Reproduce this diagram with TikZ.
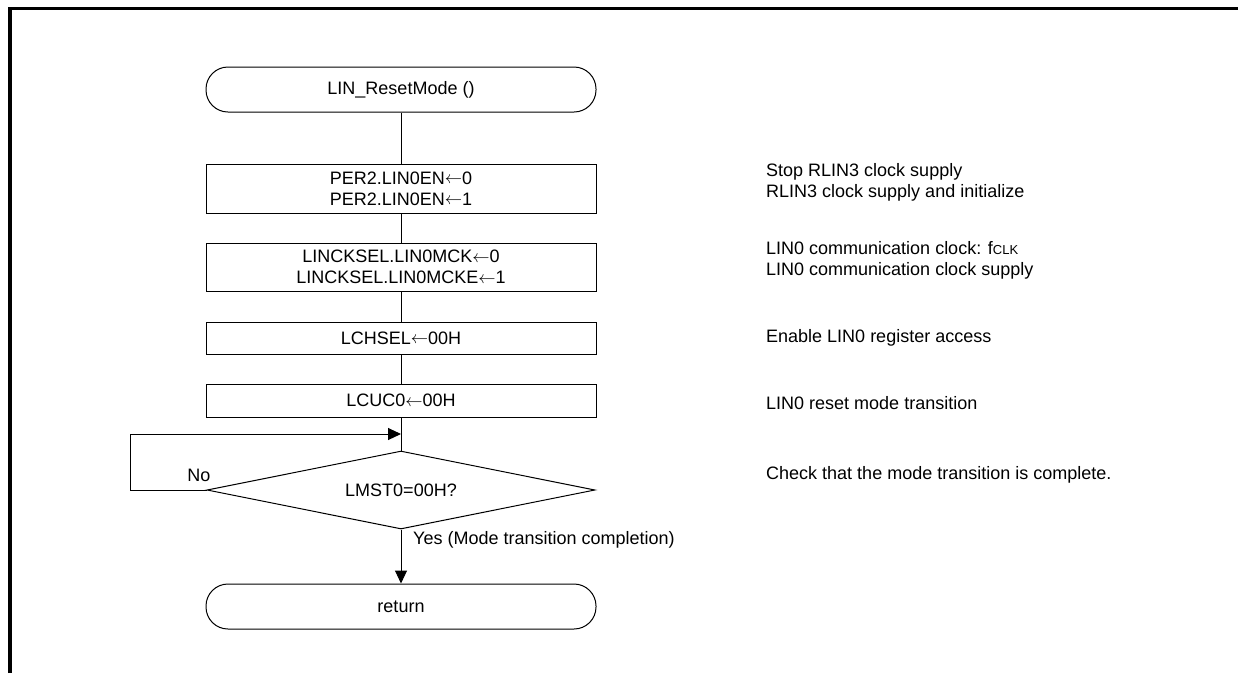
\documentclass[tikz,border=0pt]{standalone}
\usepackage{fontspec}
\setmainfont{Liberation Sans}
\usetikzlibrary{shapes.geometric,arrows.meta}
\newcommand{\lar}{\raisebox{0.5pt}{$\leftarrow$}}
\begin{document}
\begin{tikzpicture}[x=1pt,y=-1pt,
  every node/.style={font=\fontsize{18}{21}\selectfont},
  term/.style={draw,line width=1pt,rounded corners=22pt,minimum width=390pt,minimum height=45pt,inner sep=0pt},
  proc/.style={draw,line width=1pt,minimum width=390pt,inner sep=0pt,align=center},
  dec/.style={draw,line width=1pt,diamond,aspect=4.97,minimum width=388pt,minimum height=78pt,inner sep=0pt},
  flow/.style={line width=1pt},
  arr/.style={line width=1pt,-{Triangle[length=13pt,width=12pt]}},
  note/.style={anchor=west,inner sep=0pt,align=left},
  frame/.style={line width=3.5pt}]
\useasboundingbox (0,0) rectangle (1238,673);
\draw[frame] (10,673) -- (10,8.5) -- (1238,8.5);
\node[term] (start) at (401,89.5) {LIN\_ResetMode ()};
\node[proc,minimum height=49pt] (b1) at (401,188.5) {PER2.LIN0EN\lar0\\PER2.LIN0EN\lar1};
\node[proc,minimum height=48pt] (b2) at (401,267) {LINCKSEL.LIN0MCK\lar0\\LINCKSEL.LIN0MCKE\lar1};
\node[proc,minimum height=32pt] (b3) at (401,338) {LCHSEL\lar00H};
\node[proc,minimum height=33pt] (b4) at (401,400.5) {LCUC0\lar00H};
\node[dec] (d) at (401,490) {LMST0=00H?};
\node[term] (ret) at (401,606.5) {return};
\coordinate (j) at (401,434);
\draw[flow] (start) -- (b1);
\draw[flow] (b1) -- (b2);
\draw[flow] (b2) -- (b3);
\draw[flow] (b3) -- (b4);
\draw[flow] (b4) -- (d);
\draw[arr] (d.west) -- (130,490) -- (130,434) -- (j);
\draw[arr] (d) -- (ret);
\node[inner sep=0pt] (no) at (199,475) {No};
\node[note] (yes) at (413,540) {Yes (Mode transition completion)};
\node[note] (n1) at (766,182) {Stop RLIN3 clock supply\\RLIN3 clock supply and initialize};
\node[note] (n2) at (766,260) {LIN0 communication clock: f{\fontsize{13}{15}\selectfont CLK}\\LIN0 communication clock supply};
\node[note] (n3) at (766,338) {Enable LIN0 register access};
\node[note] (n4) at (766,403) {LIN0 reset mode transition};
\node[note] (n5) at (766,475) {Check that the mode transition is complete.};
\end{tikzpicture}
\end{document}
